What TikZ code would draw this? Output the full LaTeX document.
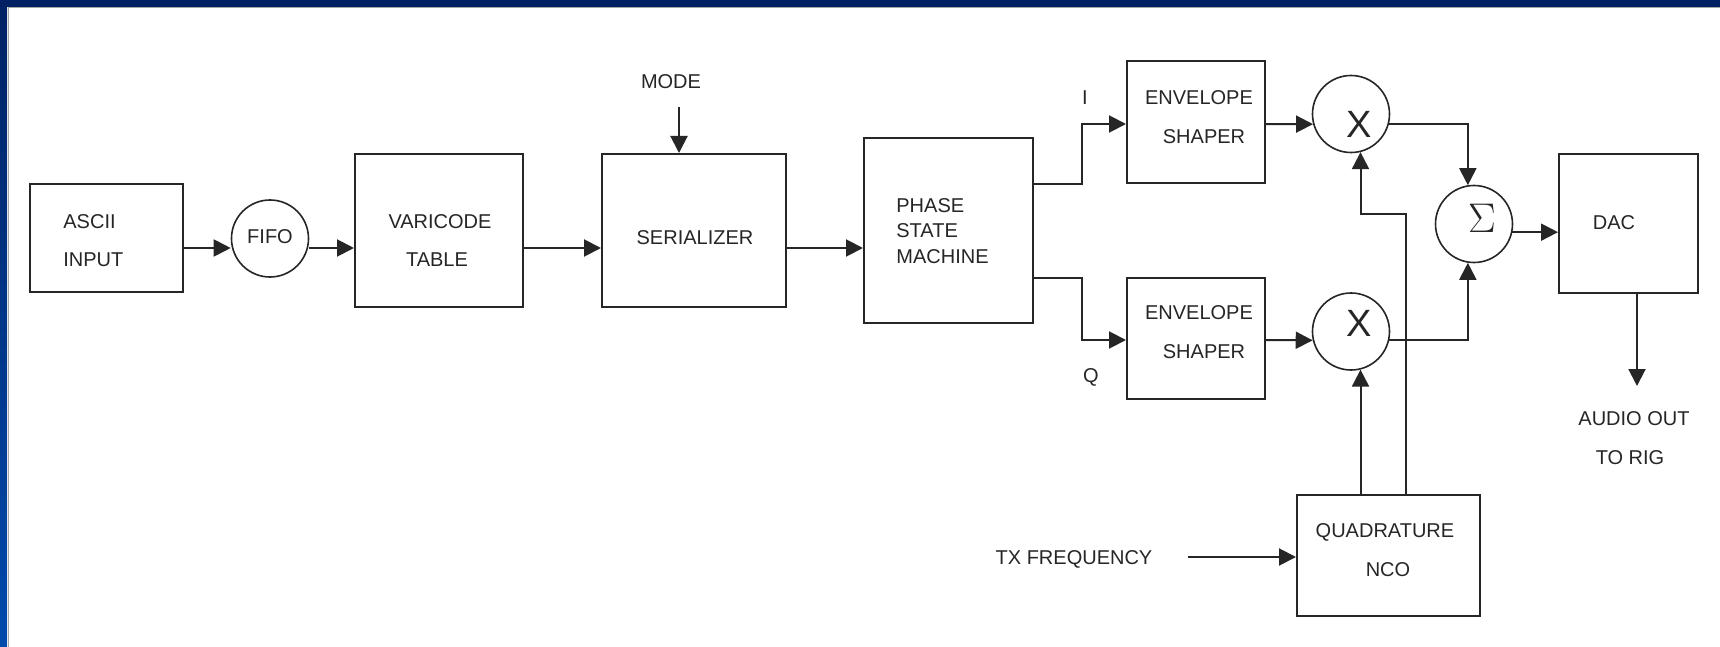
\documentclass[tikz,border=0pt]{standalone}
\usepackage{fontspec}
\setmainfont{Liberation Sans}
\usetikzlibrary{arrows.meta}
\definecolor{ink}{HTML}{262626}
\definecolor{navy}{RGB}{0,34,100}
\definecolor{bblue}{RGB}{0,74,172}
\begin{document}
\begin{tikzpicture}[x=0.5pt,y=-0.5pt,
  box/.style={draw=ink,line width=1pt,inner sep=0pt},
  ring/.style={draw=ink,line width=0.8pt,circle,inner sep=0pt,minimum size=38.5pt},
  lbl/.style={text=ink,font=\fontsize{10pt}{12pt}\selectfont,inner sep=0pt},
  big/.style={text=ink,font=\fontsize{19pt}{20pt}\selectfont,inner sep=0pt},
  wire/.style={draw=ink,line width=1pt},
  arr/.style={wire,-{Triangle[length=8.5pt,width=8.5pt]}},
]
% page and frame
\fill[white] (0,0) rectangle (1720,647);
\useasboundingbox (0,0) rectangle (1720,647);
\shade[top color=navy,bottom color=bblue] (0,0) rectangle (7,647);
\fill[navy] (0,0) rectangle (1720,7);
\draw[black!35,line width=0.5pt] (8,8) -- (8,647);
\draw[black!35,line width=0.5pt] (8,8) -- (1720,8);

% blocks
\node[box,minimum width=76.5pt,minimum height=54pt] (ascii) at (106.5,238) {};
\node[lbl,anchor=west] (asciiA) at (63,222) {ASCII};
\node[lbl,anchor=west] (asciiB) at (63,260) {INPUT};

\node[ring] (fifo) at (270,238.5) {};
\node[lbl] (fifoT) at (270,237) {FIFO};

\node[box,minimum width=84pt,minimum height=76.5pt] (vari) at (439,230.5) {};
\node[lbl] (variA) at (440,222) {VARICODE};
\node[lbl] (variB) at (437,260) {TABLE};

\node[box,minimum width=92pt,minimum height=76.5pt] (ser) at (694,230.5) {};
\node[lbl] (serT) at (695,238) {SERIALIZER};
\node[lbl] (mode) at (671,82) {MODE};
\coordinate (modeTail) at (679,107);

\node[box,minimum width=84.5pt,minimum height=92.5pt] (psm) at (948.5,230.5) {};
\node[lbl,anchor=west] (psmA) at (896,206) {PHASE};
\node[lbl,anchor=west] (psmB) at (896,231) {STATE};
\node[lbl,anchor=west] (psmC) at (896,257) {MACHINE};

\node[lbl] (iLbl) at (1085,98) {I};
\node[lbl] (qLbl) at (1091,377) {Q};

\node[box,minimum width=69pt,minimum height=61pt] (es1) at (1196,122) {};
\node[lbl] (es1A) at (1199,98) {ENVELOPE};
\node[lbl] (es1B) at (1204,137) {SHAPER};

\node[box,minimum width=69pt,minimum height=60.5pt] (es2) at (1196,338.5) {};
\node[lbl] (es2A) at (1199,313) {ENVELOPE};
\node[lbl] (es2B) at (1204,352) {SHAPER};

\node[ring] (x1) at (1351,114) {};
\node[big] (x1T) at (1359,124) {X};
\node[ring] (x2) at (1351,331.5) {};
\node[big] (x2T) at (1359,323) {X};

\node[ring] (sig) at (1474,224) {};
\node[text=ink,inner sep=0pt,font=\fontsize{21pt}{22pt}\selectfont] (sigT) at (1482,218) {$\Sigma$};

\node[box,minimum width=69.5pt,minimum height=69.5pt] (dac) at (1628.5,223.5) {};
\node[lbl] (dacT) at (1614,223) {DAC};
\node[lbl] (audA) at (1634,419) {AUDIO OUT};
\node[lbl] (audB) at (1630,458) {TO RIG};
\coordinate (audEnd) at (1637,386);

\node[box,minimum width=91.5pt,minimum height=60.5pt] (nco) at (1388.5,555.5) {};
\node[lbl] (ncoA) at (1385,532) {QUADRATURE};
\node[lbl] (ncoB) at (1388,570) {NCO};
\node[lbl] (txf) at (1074,559) {TX FREQUENCY};
\coordinate (txStart) at (1188,557);

% main row
\coordinate (row) at (0,248);
\draw[arr] (ascii.east |- row) -- (fifo.west |- row);
\draw[arr] (fifo.east |- row) -- (vari.west |- row);
\draw[arr] (vari.east |- row) -- (ser.west |- row);
\draw[arr] (ser.east |- row) -- (psm.west |- row);
\draw[arr] (modeTail) -- (modeTail |- ser.north);

% I / Q branches
\draw[arr] ([yshift=23.25pt]psm.east) -- ++(48,0) |- ([yshift=-1pt]es1.west);
\draw[arr] ([yshift=-23.75pt]psm.east) -- ++(48,0) |- ([yshift=-0.75pt]es2.west);
\draw[arr] ([yshift=-1pt]es1.east) -- (x1.195);
\draw[arr] ([yshift=-0.75pt]es2.east) -- (x2.193);

% to summer
\draw[arr] (x1.345) -| (sig.99);
\draw[arr] (x2.347) -| (sig.261);
\draw[arr] (sig.348) -- (sig.348 -| dac.west);
\draw[arr] (audEnd |- dac.south) -- (audEnd);

% NCO
\draw[arr] (txStart) -- (txStart -| nco.west);
\draw[arr] (x2.284 |- nco.north) -- (x2.284);
\draw[arr] ([xshift=8.75pt]nco.north) -- ++(0,-280) -| (x1.284);
\end{tikzpicture}
\end{document}
